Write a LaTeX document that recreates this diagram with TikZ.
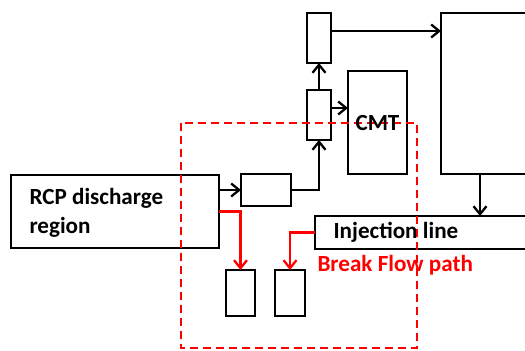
\documentclass[tikz,border=0pt]{standalone}
\usepackage{fontspec}
\setmainfont{Carlito}
\usetikzlibrary{arrows.meta}
\definecolor{bfred}{RGB}{255,0,0}
\begin{document}
\begin{tikzpicture}[x=1bp,y=-1bp,
  box/.style={draw,line width=2.3bp,inner sep=0pt,outer sep=0pt},
  lbl/.style={font=\fontsize{23.2}{29}\selectfont\bfseries},
  arr/.style={line width=2.3bp,-{Straight Barb[length=8bp,width=13bp,line width=2.3bp]}},
  redarr/.style={arr,draw=bfred},
  zone/.style={draw=bfred,line width=2.3bp,dash pattern=on 8bp off 5bp}]
\useasboundingbox (0,0) rectangle (525,350);
% boxes
\node[box,minimum width=24bp,minimum height=50bp] (top) at (319,38) {};
\node[box,minimum width=24bp,minimum height=50bp] (mid) at (319,115) {};
\node[box,minimum width=59bp,minimum height=103bp] (cmt) at (377.5,122.5) {};
\node[box,minimum width=88bp,minimum height=161bp] (big) at (485,93.5) {};
\node[box,minimum width=213bp,minimum height=33bp] (inj) at (421.5,232.5) {};
\node[box,minimum width=208bp,minimum height=73bp] (rcp) at (115,211.5) {};
\node[box,minimum width=50bp,minimum height=32bp] (small) at (266,190) {};
\node[box,minimum width=29bp,minimum height=46bp] (b1) at (240.5,293) {};
\node[box,minimum width=30bp,minimum height=46bp] (b2) at (290,293) {};
% labels
\node[lbl,anchor=west,align=left] (rcptxt) at (26,213) {RCP discharge\\region};
\node[lbl,anchor=west] (injtxt) at (330,232) {Injection line};
\node[lbl,text=bfred,anchor=west] (brk) at (314,265) {Break Flow path};
% black connectors
\draw[arr] (rcp.east |- small.west) -- (small.west);
\draw[arr] (small.east) -| (mid.south);
\draw[arr] (mid.north) -- (top.south);
\coordinate (m1) at ([yshift=7bp]mid.east);
\draw[arr] (m1) -- (m1 -| cmt.west);
\coordinate (t1) at ([yshift=7bp]top.east);
\draw[arr] (t1) -- (t1 -| big.west);
\coordinate (bs) at (480,174);
\draw[arr] (bs) -- (bs |- inj.north);
% red break-flow connectors
\draw[redarr] (rcp.east) -| (b1.north);
\draw[redarr] (inj.west) -| (b2.north);
% dashed zone
\draw[zone] (181,123) rectangle (417,348);
\node[lbl] (cmttxt) at (cmt.center) {CMT};
\end{tikzpicture}
\end{document}
